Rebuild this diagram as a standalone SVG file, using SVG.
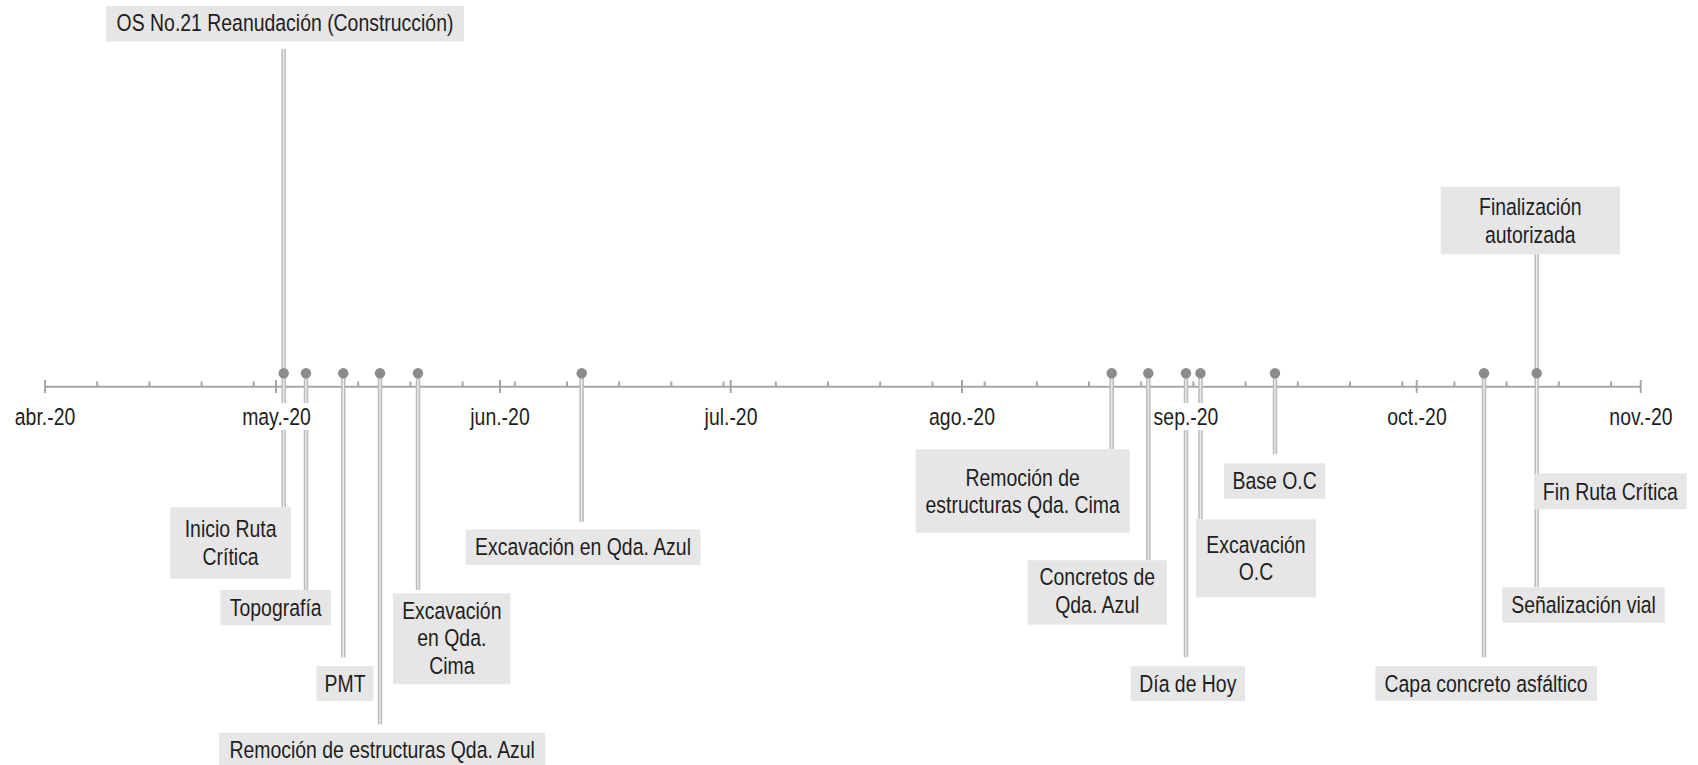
<svg xmlns="http://www.w3.org/2000/svg" width="1698" height="765" viewBox="0 0 1698 765">
<style>
.t{font-family:"Liberation Sans",Arial,sans-serif;font-size:23.7px;fill:#1e1e1e;text-anchor:middle}
.box{fill:#e7e6e6}
.ax{stroke:#a6a6a6;stroke-width:2;fill:none}
.lo{stroke:#bdbdbd;stroke-width:4.5;fill:none}
.li{stroke:#ececec;stroke-width:1.4;fill:none}
.dot{fill:#8c8c8c}
.wb{fill:#ffffff}
</style>
<rect width="1698" height="765" fill="#ffffff"/>
<g id="axis">
<path class="ax" d="M45 386.7H1640.7"/>
<path class="ax" d="M45 380V393M276 380V393M500 380V393M730.7 380V393M962 380V393M1186 380V393M1416.7 380V393M1640.7 380V393"/>
<path class="ax" d="M97.2 381.5V386.7M149.4 381.5V386.7M201.6 381.5V386.7M253.8 381.5V386.7M306 381.5V386.7M358.2 381.5V386.7M410.4 381.5V386.7M462.6 381.5V386.7M514.8 381.5V386.7M567 381.5V386.7M619.2 381.5V386.7M671.4 381.5V386.7M723.6 381.5V386.7M775.8 381.5V386.7M828 381.5V386.7M880.2 381.5V386.7M932.4 381.5V386.7M984.6 381.5V386.7M1036.8 381.5V386.7M1089 381.5V386.7M1141.2 381.5V386.7M1193.4 381.5V386.7M1245.6 381.5V386.7M1297.8 381.5V386.7M1350 381.5V386.7M1402.2 381.5V386.7M1454.4 381.5V386.7M1506.6 381.5V386.7M1558.8 381.5V386.7M1611 381.5V386.7"/>
</g>
<g id="connectors">
<path class="lo" d="M283.7 49V507.3M306 373V590M343.3 373V657.3M380 373V724.3M418 373V590M581.7 373V521.7M1111.7 373V449.3M1148.3 373V560M1186 373V657.3M1200.5 373V519.3M1275 373V454.3M1484 373V657.3M1536.7 254.3V587"/>
<path class="li" d="M283.7 49V507.3M306 373V590M343.3 373V657.3M380 373V724.3M418 373V590M581.7 373V521.7M1111.7 373V449.3M1148.3 373V560M1186 373V657.3M1200.5 373V519.3M1275 373V454.3M1484 373V657.3M1536.7 254.3V587"/>
</g>
<g id="month-labels">
<rect class="wb" x="12" y="403" width="66" height="27"/><text class="t" transform="matrix(.82 0 0 1 45 0)" y="425">abr.-20</text>
<rect class="wb" x="240" y="403" width="73" height="27"/><text class="t" transform="matrix(.82 0 0 1 276.5 0)" y="425">may.-20</text>
<rect class="wb" x="468" y="403" width="64" height="27"/><text class="t" transform="matrix(.82 0 0 1 500 0)" y="425">jun.-20</text>
<rect class="wb" x="700" y="403" width="62" height="27"/><text class="t" transform="matrix(.82 0 0 1 731 0)" y="425">jul.-20</text>
<rect class="wb" x="927" y="403" width="70" height="27"/><text class="t" transform="matrix(.82 0 0 1 962 0)" y="425">ago.-20</text>
<rect class="wb" x="1151" y="403" width="70" height="27"/><text class="t" transform="matrix(.82 0 0 1 1186 0)" y="425">sep.-20</text>
<rect class="wb" x="1385" y="403" width="64" height="27"/><text class="t" transform="matrix(.82 0 0 1 1417 0)" y="425">oct.-20</text>
<rect class="wb" x="1607" y="403" width="68" height="27"/><text class="t" transform="matrix(.82 0 0 1 1641 0)" y="425">nov.-20</text>
</g>
<g id="markers">
<circle class="dot" cx="283.7" cy="373.3" r="5.2"/>
<circle class="dot" cx="306" cy="373.3" r="5.2"/>
<circle class="dot" cx="343.3" cy="373.3" r="5.2"/>
<circle class="dot" cx="380" cy="373.3" r="5.2"/>
<circle class="dot" cx="418" cy="373.3" r="5.2"/>
<circle class="dot" cx="581.7" cy="373.3" r="5.2"/>
<circle class="dot" cx="1111.7" cy="373.3" r="5.2"/>
<circle class="dot" cx="1148.3" cy="373.3" r="5.2"/>
<circle class="dot" cx="1186" cy="373.3" r="5.2"/>
<circle class="dot" cx="1200.5" cy="373.3" r="5.2"/>
<circle class="dot" cx="1275" cy="373.3" r="5.2"/>
<circle class="dot" cx="1484" cy="373.3" r="5.2"/>
<circle class="dot" cx="1536.7" cy="373.3" r="5.2"/>
</g>
<g id="n-os21"><rect class="box" x="106" y="6" width="358" height="35.5"/><text class="t" transform="matrix(.82 0 0 1 285 0)" y="31.5">OS No.21 Reanudación (Construcción)</text></g>
<g id="n-inicio"><rect class="box" x="170.3" y="507.3" width="120.6" height="71.4"/><text class="t" transform="matrix(.82 0 0 1 230.6 0)" y="537.5">Inicio Ruta</text><text class="t" transform="matrix(.82 0 0 1 230.6 0)" y="565">Crítica</text></g>
<g id="n-topografia"><rect class="box" x="220.4" y="590" width="110.6" height="35.3"/><text class="t" transform="matrix(.82 0 0 1 275.7 0)" y="616">Topografía</text></g>
<g id="n-pmt"><rect class="box" x="316.5" y="666" width="57" height="35"/><text class="t" transform="matrix(.82 0 0 1 345 0)" y="692">PMT</text></g>
<g id="n-exc-cima"><rect class="box" x="393" y="593.3" width="117.5" height="91"/><text class="t" transform="matrix(.82 0 0 1 451.8 0)" y="619">Excavación</text><text class="t" transform="matrix(.82 0 0 1 451.8 0)" y="646.5">en Qda.</text><text class="t" transform="matrix(.82 0 0 1 451.8 0)" y="674">Cima</text></g>
<g id="n-rem-azul"><rect class="box" x="219" y="732.7" width="326.4" height="36"/><text class="t" transform="matrix(.82 0 0 1 382.2 0)" y="758.5">Remoción de estructuras Qda. Azul</text></g>
<g id="n-exc-azul"><rect class="box" x="465.6" y="529.5" width="235" height="35.4"/><text class="t" transform="matrix(.82 0 0 1 583 0)" y="555">Excavación en Qda. Azul</text></g>
<g id="n-rem-cima"><rect class="box" x="915.7" y="449.3" width="214" height="83.4"/><text class="t" transform="matrix(.82 0 0 1 1022.7 0)" y="486">Remoción de</text><text class="t" transform="matrix(.82 0 0 1 1022.7 0)" y="513.5">estructuras Qda. Cima</text></g>
<g id="n-concretos"><rect class="box" x="1027.7" y="560.3" width="139.3" height="64.4"/><text class="t" transform="matrix(.82 0 0 1 1097.3 0)" y="585.5">Concretos de</text><text class="t" transform="matrix(.82 0 0 1 1097.3 0)" y="613">Qda. Azul</text></g>
<g id="n-hoy"><rect class="box" x="1130.7" y="666.3" width="114.3" height="34.7"/><text class="t" transform="matrix(.82 0 0 1 1187.8 0)" y="692">Día de Hoy</text></g>
<g id="n-base"><rect class="box" x="1224" y="463.3" width="101.3" height="35.4"/><text class="t" transform="matrix(.82 0 0 1 1274.7 0)" y="489">Base O.C</text></g>
<g id="n-exc-oc"><rect class="box" x="1196" y="519.3" width="120" height="78"/><text class="t" transform="matrix(.82 0 0 1 1256 0)" y="553">Excavación</text><text class="t" transform="matrix(.82 0 0 1 1256 0)" y="580.5">O.C</text></g>
<g id="n-finalizacion"><rect class="box" x="1440.7" y="186.7" width="179.3" height="67.6"/><text class="t" transform="matrix(.82 0 0 1 1530.3 0)" y="215.3">Finalización</text><text class="t" transform="matrix(.82 0 0 1 1530.3 0)" y="242.8">autorizada</text></g>
<g id="n-fin-ruta"><rect class="box" x="1534" y="473.3" width="152.7" height="36"/><text class="t" transform="matrix(.82 0 0 1 1610.3 0)" y="500">Fin Ruta Crítica</text></g>
<g id="n-senalizacion"><rect class="box" x="1502.3" y="587.3" width="162.4" height="35.4"/><text class="t" transform="matrix(.82 0 0 1 1583.5 0)" y="613.5">Señalización vial</text></g>
<g id="n-capa"><rect class="box" x="1375.3" y="666" width="221.7" height="34.7"/><text class="t" transform="matrix(.82 0 0 1 1486 0)" y="692">Capa concreto asfáltico</text></g>
</svg>
